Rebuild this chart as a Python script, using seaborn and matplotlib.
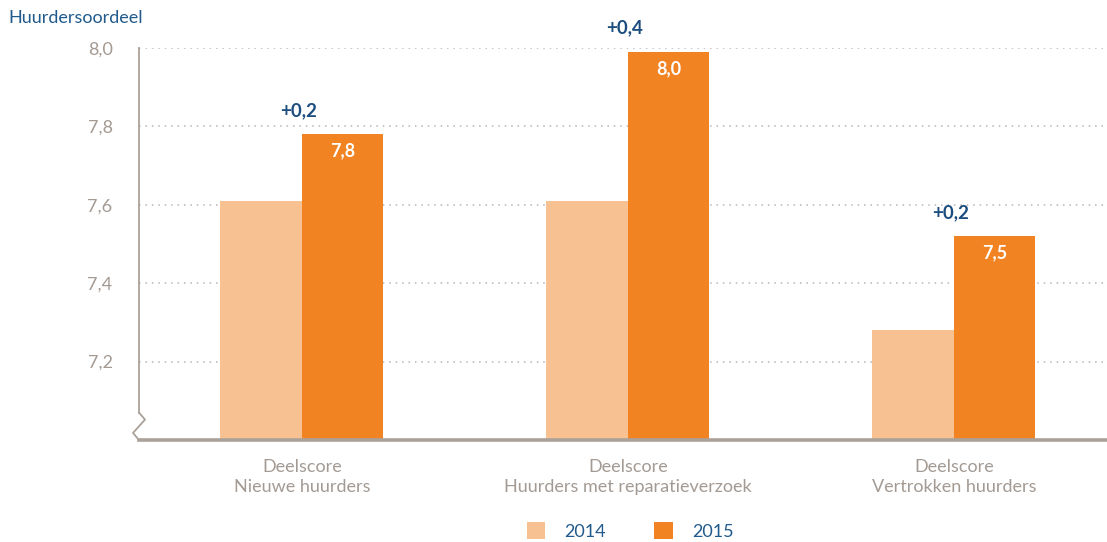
import matplotlib
matplotlib.use("Agg")
import matplotlib.pyplot as plt
import matplotlib.transforms as mtransforms
from matplotlib.patches import Patch
import seaborn as sns
import pandas as pd

# Scores per group and year
categories = ["Deelscore\nNieuwe huurders",
              "Deelscore\nHuurders met reparatieverzoek",
              "Deelscore\nVertrokken huurders"]
years = ["2014", "2015"]
scores_2014 = [7.61, 7.61, 7.28]
scores_2015 = [7.78, 7.99, 7.52]
y_ticks = [7.2, 7.4, 7.6, 7.8, 8.0]

C_2014 = "#f8c191"
C_2015 = "#f28322"
GREY = "#a39a93"
BLUE = "#215a8c"
DARK_BLUE = "#1b4d7e"

df = pd.DataFrame({
    "groep": categories * 2,
    "jaar": [years[0]] * 3 + [years[1]] * 3,
    "score": scores_2014 + scores_2015,
})

sns.set_theme(style="white")
plt.rcParams["font.family"] = ["Lato", "DejaVu Sans"]

fig = plt.figure(figsize=(11.07, 5.42), dpi=100)
ax = fig.add_axes([139 / 1107, 1 - 440 / 542, 1 - 139 / 1107, (440 - 48) / 542])

sns.barplot(data=df, x="groep", y="score", hue="jaar", order=categories,
            hue_order=years, palette=[C_2014, C_2015], width=0.5,
            saturation=1, linewidth=0, errorbar=None, legend=False, ax=ax)

ax.set_ylim(7.0, 8.0)
ax.set_xlim(-0.5, 2.47)
ax.set_yticks(y_ticks)
ax.set_yticklabels([f"{v:.1f}".replace(".", ",") for v in y_ticks])
ax.set_xlabel("")
ax.set_ylabel("")
ax.tick_params(axis="y", length=0, pad=19, labelsize=13, labelcolor=GREY)
ax.tick_params(axis="x", length=0, pad=14, labelsize=13, labelcolor=GREY)
for lab in ax.get_xticklabels():
    lab.set_linespacing(1.25)

# dotted grid lines
for v in y_ticks:
    ax.axhline(v, color="#b5b5b5", lw=1.1, ls=(0, (1, 3.2)), zorder=0)

for s in ["top", "right"]:
    ax.spines[s].set_visible(False)
ax.spines["bottom"].set_color("#aaa19a")
ax.spines["bottom"].set_linewidth(2.6)
ax.spines["bottom"].set_zorder(5)
ax.spines["left"].set_color("#aaa19a")
ax.spines["left"].set_linewidth(1.3)
ax.spines["left"].set_bounds(7.07, 8.0)

# axis break marker on the left spine
trans = mtransforms.blended_transform_factory(ax.transAxes, ax.transData)
dx = 6 / (1107 - 139)
ax.plot([0, dx, 0, -dx, 0], [7.07, 7.052, 7.035, 7.018, 7.0],
        color="#aaa19a", lw=1.3, transform=trans, clip_on=False, zorder=6)

# value labels inside the 2015 bars and change labels above the groups
bar_w = 0.25
for i, (a, b) in enumerate(zip(scores_2014, scores_2015)):
    ax.annotate(f"{b:.1f}".replace(".", ","), xy=(i + bar_w / 2, b),
                xytext=(0, -6), textcoords="offset points",
                ha="center", va="top", color="white",
                fontsize=13, fontweight="bold")
    diff = round(b, 1) - round(a, 1)
    ax.annotate(f"+{diff:.1f}".replace(".", ","), xy=(i - 0.01, b),
                xytext=(0, 11), textcoords="offset points",
                ha="center", va="bottom", color=DARK_BLUE,
                fontsize=13.5, fontweight="bold")

fig.text(8 / 1107, 1 - 18 / 542, "Huurdersoordeel", ha="left", va="center",
         fontsize=13, color=BLUE)

handles = [Patch(facecolor=C_2014, edgecolor="none"),
           Patch(facecolor=C_2015, edgecolor="none")]
leg = fig.legend(handles, years, loc="center", bbox_to_anchor=(630 / 1107, 1 - 531 / 542),
                 ncol=2, frameon=False, fontsize=13, handlelength=1.05,
                 handleheight=1.05, handletextpad=1.05, columnspacing=2.65)
for t in leg.get_texts():
    t.set_color(BLUE)

fig.savefig("out.png", dpi=100)
